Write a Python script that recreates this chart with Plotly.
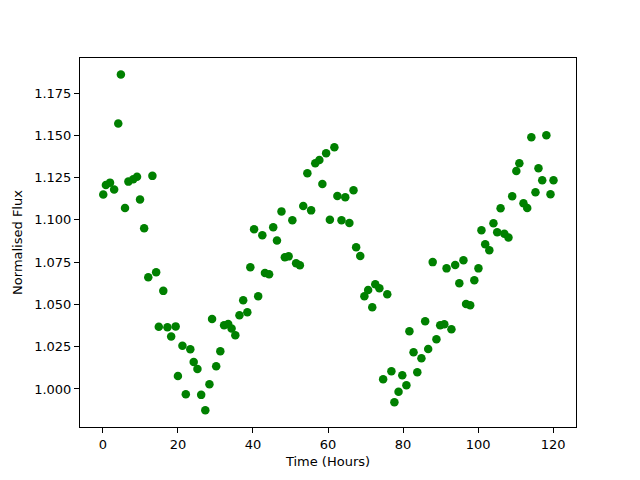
import plotly.graph_objects as go

time_hours = [0.1, 0.8, 1.9, 3.0, 4.1, 4.8, 5.9, 6.8, 8.1, 9.1, 9.9, 11.0, 12.1, 13.2, 14.2, 14.9,
              16.1, 17.2, 18.2, 19.4, 20.0, 21.2, 22.1, 23.3, 24.2, 25.2, 26.2, 27.3, 28.4, 29.1,
              30.2, 31.3, 32.3, 33.4, 34.3, 35.3, 36.4, 37.4, 38.5, 39.3, 40.3, 41.4, 42.5, 43.2,
              44.3, 45.4, 46.4, 47.6, 48.5, 49.5, 50.5, 51.5, 52.5, 53.4, 54.5, 55.5, 56.6, 57.7,
              58.5, 59.5, 60.5, 61.7, 62.5, 63.6, 64.6, 65.7, 66.8, 67.5, 68.6, 69.7, 70.7, 71.8,
              72.6, 73.7, 74.7, 75.8, 76.9, 77.7, 78.8, 79.8, 80.9, 81.7, 82.8, 83.8, 84.9, 85.9,
              86.7, 87.9, 88.9, 89.9, 91.0, 91.6, 92.9, 93.9, 95.0, 96.1, 96.8, 97.9, 99.0, 100.1,
              100.9, 101.9, 103.0, 104.1, 105.1, 106.0, 107.0, 108.1, 109.1, 110.2, 111.0, 112.1,
              113.1, 114.2, 115.3, 116.1, 117.1, 118.2, 119.3, 120.1]

norm_flux = [1.115, 1.1206, 1.122, 1.118, 1.157, 1.186, 1.107, 1.1226, 1.124, 1.1255, 1.112, 1.095,
             1.066, 1.126, 1.069, 1.0368, 1.058, 1.0365, 1.031, 1.037, 1.0077, 1.0256, 0.9969,
             1.0235, 1.016, 1.0118, 0.9965, 0.9874, 1.0028, 1.0414, 1.0134, 1.0223, 1.0376,
             1.0384, 1.0357, 1.0318, 1.0436, 1.0524, 1.0453, 1.0720, 1.0944, 1.0548, 1.0909,
             1.0686, 1.0678, 1.0956, 1.0878, 1.105, 1.0779, 1.0784, 1.0997, 1.0743, 1.0731,
             1.1082, 1.1275, 1.1056, 1.1334, 1.1354, 1.1212, 1.1394, 1.1001, 1.1429, 1.1141,
             1.0997, 1.1133, 1.0981, 1.1175, 1.0838, 1.0786, 1.0548, 1.0585, 1.0483, 1.0619,
             1.0595, 1.0057, 1.056, 1.0105, 0.9921, 0.9984, 1.0081, 1.0022, 1.0341, 1.0217,
             1.0099, 1.0181, 1.04, 1.0236, 1.075, 1.0294, 1.0376, 1.0382, 1.0713, 1.0353, 1.0733,
             1.0625, 1.0761, 1.0503, 1.0495, 1.0643, 1.0713, 1.0938, 1.0856, 1.082, 1.098,
             1.0926, 1.1068, 1.0918, 1.0895, 1.1139, 1.1289, 1.1334, 1.1098, 1.107, 1.1488,
             1.1163, 1.1305, 1.1234, 1.15, 1.1151, 1.1234]

x_ticks = [0, 20, 40, 60, 80, 100, 120]
y_ticks = [1.000, 1.025, 1.050, 1.075, 1.100, 1.125, 1.150, 1.175]

fig = go.Figure()
fig.add_trace(go.Scatter(
    x=time_hours, y=norm_flux, mode="markers",
    marker=dict(color="#008000", size=8.5, line=dict(width=0)),
    showlegend=False,
))

axis_common = dict(
    showgrid=False, zeroline=False, showline=True, linecolor="black", linewidth=1,
    mirror=True, ticks="outside", ticklen=5, tickwidth=1, tickcolor="black",
    tickfont=dict(family="DejaVu Sans", size=13, color="black"), automargin=False,
)

# page body has an 8px default margin, so the figure margins are offset by 8px
fig.update_layout(
    width=640, height=480,
    margin=dict(l=72, r=72, t=50, b=61),
    paper_bgcolor="white", plot_bgcolor="white",
    font=dict(family="DejaVu Sans", size=13, color="black"),
    xaxis=dict(range=[-6.1, 126.1], tickvals=x_ticks, ticktext=[str(v) for v in x_ticks],
               title=dict(text="Time (Hours)", font=dict(size=13), standoff=6), **axis_common),
    yaxis=dict(range=[0.9775, 1.1957], tickvals=y_ticks, ticktext=[f"{v:.3f}" for v in y_ticks],
               title=dict(text="Normalised Flux", font=dict(size=13), standoff=8), **axis_common),
)

fig.write_html("out.html")
